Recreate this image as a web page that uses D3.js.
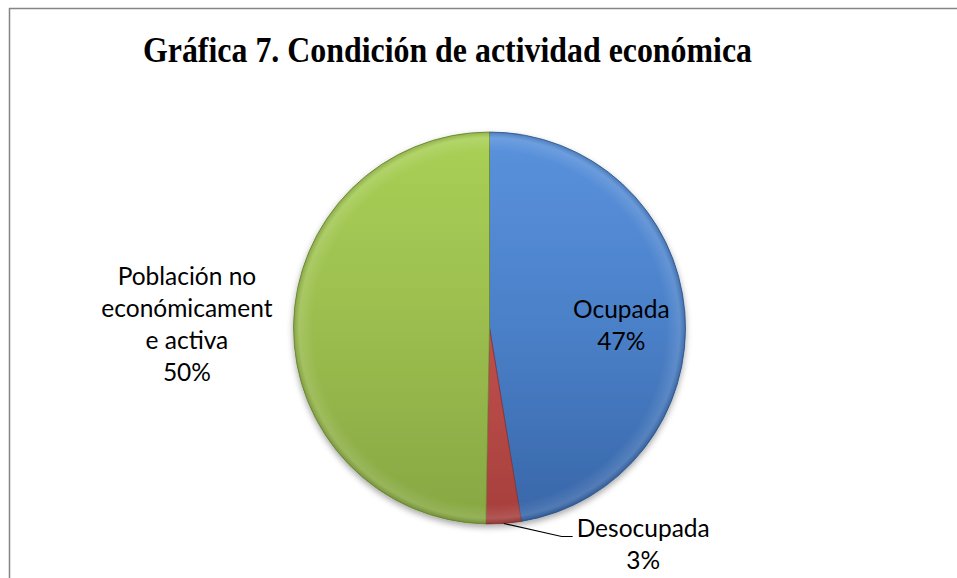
<!DOCTYPE html>
<html>
<head>
<meta charset="utf-8">
<script src="https://cdn.jsdelivr.net/npm/d3@7"></script>
<style>
  body { margin: 0; background: #fff; }
  svg { display: block; }
</style>
</head>
<body>
<svg id="chart" width="957" height="578"></svg>
<script>
// chart data
const categories = ['Ocupada', 'Desocupada', 'Población no económicamente activa'];
const labelLines = [['Ocupada'], ['Desocupada'], ['Población no', 'económicament', 'e activa']];
const percentages = [47.4, 2.9, 49.7];
const shownPct = ['47%', '3%', '50%'];
const titleText = 'Gráfica 7. Condición de actividad económica';

const width = 957, height = 578;
const cx = 489.5, cy = 328, radius = 196;
const svg = d3.select('#chart');

// colours: light top, dark bottom for each slice
const palette = [
  { top: '#5a92dc', mid: '#4a80c8', bottom: '#3866a8', edge: '#2d5590' },
  { top: '#d0605c', mid: '#c0504d', bottom: '#a63f3c', edge: '#8c3230' },
  { top: '#a9d055', mid: '#9bbd4f', bottom: '#86a742', edge: '#6c8a33' }
];

const defs = svg.append('defs');
palette.forEach(function (p, i) {
  // gradient in the slice's local space (pie centre = 0,0)
  let gr = defs.append('linearGradient')
    .attr('id', 'grad' + i)
    .attr('gradientUnits', 'userSpaceOnUse')
    .attr('x1', 0).attr('y1', -radius)
    .attr('x2', 0).attr('y2', radius);
  gr.append('stop').attr('offset', '0%').attr('stop-color', p.top);
  gr.append('stop').attr('offset', '50%').attr('stop-color', p.mid);
  gr.append('stop').attr('offset', '100%').attr('stop-color', p.bottom);
});

let shadow = defs.append('filter').attr('id', 'shadow')
  .attr('x', '-10%').attr('y', '-10%').attr('width', '120%').attr('height', '125%');
shadow.append('feDropShadow')
  .attr('dx', 0).attr('dy', 3).attr('stdDeviation', 3)
  .attr('flood-color', '#000').attr('flood-opacity', 0.35);

// soft bevel along the rim
let rim = defs.append('radialGradient').attr('id', 'rim')
  .attr('gradientUnits', 'userSpaceOnUse')
  .attr('cx', 0).attr('cy', 0).attr('r', radius);
rim.append('stop').attr('offset', '90%').attr('stop-color', '#fff').attr('stop-opacity', 0);
rim.append('stop').attr('offset', '97%').attr('stop-color', '#fff').attr('stop-opacity', 0.12);
rim.append('stop').attr('offset', '100%').attr('stop-color', '#000').attr('stop-opacity', 0.15);

// frame (only top and left edges show)
svg.append('line').attr('x1', 9).attr('y1', 8.5).attr('x2', width).attr('y2', 8.5)
  .attr('stroke', '#858585').attr('stroke-width', 1.5);
svg.append('line').attr('x1', 9.5).attr('y1', 8).attr('x2', 9.5).attr('y2', height)
  .attr('stroke', '#858585').attr('stroke-width', 1.5);

// title (the original is a bit condensed)
svg.append('text')
  .attr('x', 447.5).attr('y', 62)
  .attr('text-anchor', 'middle')
  .attr('font-family', '"Liberation Serif", "Times New Roman", serif')
  .attr('font-weight', 'bold')
  .attr('font-size', 35)
  .attr('textLength', 609)
  .attr('lengthAdjust', 'spacingAndGlyphs')
  .attr('fill', '#000')
  .text(titleText);

const pie = d3.pie().sort(null).value(function (d) { return d; });
const arcs = pie(percentages);
const arc = d3.arc().innerRadius(0).outerRadius(radius);

const g = svg.append('g').attr('transform', 'translate(' + cx + ',' + cy + ')');

g.append('g').attr('filter', 'url(#shadow)')
  .selectAll('path.slice')
  .data(arcs)
  .enter().append('path')
  .attr('class', 'slice')
  .attr('d', arc)
  .attr('fill', function (d, i) { return 'url(#grad' + i + ')'; })
  .attr('stroke', function (d, i) { return palette[i].edge; })
  .attr('stroke-width', 0.8);

g.append('circle').attr('r', radius)
  .attr('fill', 'url(#rim)').attr('pointer-events', 'none');

// labels
const font = 'Lato, "Open Sans", sans-serif';
const fontSize = 24.5;
const lineH = 32;

function drawBlock (lines, x, yFirst, anchor) {
  let t = svg.append('text')
    .attr('text-anchor', anchor || 'middle')
    .attr('font-family', font)
    .attr('font-size', fontSize)
    .attr('fill', '#000');
  lines.forEach(function (s, k) {
    t.append('tspan').attr('x', x).attr('y', yFirst + k * lineH).text(s);
  });
  return t;
}

function blockWidth (lines) {
  let t = drawBlock(lines, 0, 0);
  let w = 0;
  t.selectAll('tspan').each(function () { w = Math.max(w, this.getComputedTextLength()); });
  t.remove();
  return w;
}

// Ocupada: inside the slice
(function () {
  let a = arcs[0];
  let mid = (a.startAngle + a.endAngle) / 2;
  let r = radius * 0.675;
  let x = cx + r * Math.sin(mid);
  let y = cy - r * Math.cos(mid);
  drawBlock(labelLines[0].concat([shownPct[0]]), x, y + 1);
})();

// Desocupada: outside with leader line
(function () {
  let a = arcs[1];
  let mid = (a.startAngle + a.endAngle) / 2;
  let x0 = cx + radius * Math.sin(mid);
  let y0 = cy - radius * Math.cos(mid);
  let elbow = [x0 + 58, y0 + 13];
  let end = [elbow[0] + 11, elbow[1]];
  svg.append('polyline')
    .attr('points', [[x0, y0], elbow, end].map(function (p) { return p.join(','); }).join(' '))
    .attr('fill', 'none').attr('stroke', '#000').attr('stroke-width', 1.2);
  let lines = labelLines[1].concat([shownPct[1]]);
  let w = blockWidth(lines);
  drawBlock(lines, end[0] + 4 + w / 2, end[1] + 1);
})();

// Población no económicamente activa: outside left
(function () {
  let a = arcs[2];
  let mid = (a.startAngle + a.endAngle) / 2;
  let xr = cx + (radius + 21) * Math.sin(mid);
  let yc = cy - radius * Math.cos(mid);
  let lines = labelLines[2].concat([shownPct[2]]);
  let w = blockWidth(lines);
  drawBlock(lines, xr - w / 2, yc - 41);
})();
</script>
</body>
</html>
